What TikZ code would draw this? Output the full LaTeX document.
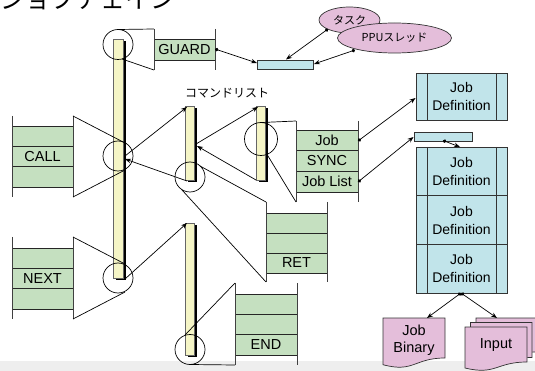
\documentclass[tikz,border=0pt]{standalone}
\usepackage{fontspec}
\setmainfont{Liberation Sans}
\newfontfamily\jpfont{Noto Sans CJK JP}
\usetikzlibrary{arrows.meta,shapes.geometric}
\definecolor{gfill}{RGB}{197,224,192}
\definecolor{ybar}{RGB}{245,245,198}
\definecolor{bfill}{RGB}{193,228,234}
\definecolor{pfill}{RGB}{228,190,218}
\definecolor{band}{RGB}{238,238,238}
\begin{document}
\begin{tikzpicture}[x=1pt,y=-1pt,line width=0.7pt,
  barbox/.style={draw=black!60,line width=0.5pt,fill=ybar,inner sep=0,minimum width=9pt},
  barshadow/.style={fill=black},
  row/.style={draw=black!85,line width=0.7pt,fill=gfill,inner sep=0,font=\fontsize{14.5}{17}\selectfont},
  brk/.style={draw=black!75,line width=0.7pt},
  proj/.style={draw=black,line width=0.7pt},
  zoomcirc/.style={draw=black,line width=0.7pt},
  arr/.style={draw=black,line width=0.7pt,-{Stealth[length=6pt,width=4.5pt]}},
  darr/.style={draw=black,line width=0.7pt,{Circle[length=3.5pt]}-{Stealth[length=6pt,width=4.5pt]}},
  bluebox/.style={draw=black!80,line width=0.7pt,fill=bfill,inner sep=0},
  jdtext/.style={font=\fontsize{14}{18}\selectfont,align=center},
  pinkshape/.style={draw=black!80,line width=0.7pt,fill=pfill},
  blob/.style={draw=black!80,line width=0.7pt,fill=pfill,ellipse}
]
\useasboundingbox (0,0) rectangle (535,371);
\fill[band] (0,361) rectangle (535,371);

% title (cut off at top)
\node[anchor=base west,inner sep=0,font=\jpfont\fontsize{25}{25}\selectfont] (title) at (0,9) {ジョブチェイン};

% ---------- bars ----------
\fill[barshadow] (116,41) rectangle (126,280);
\node[barbox,minimum width=10pt,minimum height=239pt] (b1) at (118,158.5) {};
\fill[barshadow] (188,108) rectangle (197,182);
\node[barbox,minimum height=74pt] (b2) at (189.5,143) {};
\fill[barshadow] (259,108) rectangle (268,182);
\node[barbox,minimum height=74pt] (b3) at (260.5,143) {};
\fill[barshadow] (188,225) rectangle (197,357);
\node[barbox,minimum height=132pt] (b4) at (189.5,289) {};

% ---------- zoom circles ----------
\draw[zoomcirc] (118,44.5) circle (15);
\draw[zoomcirc] (118,156) circle (15);
\draw[zoomcirc] (118,278) circle (15);
\draw[zoomcirc] (190,177) circle (15);
\draw[zoomcirc] (261,139) circle (16.5);
\draw[zoomcirc] (190,349.5) circle (15);

% ---------- green rows ----------
\node[row,minimum width=61pt,minimum height=21pt] (guard) at (184.5,49.5) {GUARD};

\node[row,minimum width=61pt,minimum height=20.33pt] (call1) at (42.5,136.2) {};
\node[row,minimum width=61pt,minimum height=20.33pt] (call2) at (42.5,156.5) {CALL};
\node[row,minimum width=61pt,minimum height=20.33pt] (call3) at (42.5,176.8) {};

\node[row,minimum width=61pt,minimum height=20.33pt] (next1) at (42.5,258.2) {};
\node[row,minimum width=61pt,minimum height=20.33pt] (next2) at (42.5,278.5) {NEXT};
\node[row,minimum width=61pt,minimum height=20.33pt] (next3) at (42.5,298.8) {};

\node[row,minimum width=62pt,minimum height=20.67pt] (cjob) at (327,140.3) {Job};
\node[row,minimum width=62pt,minimum height=20.67pt] (csync) at (327,161) {SYNC};
\node[row,minimum width=62pt,minimum height=20.67pt] (clist) at (327,181.7) {Job List};

\node[row,minimum width=61pt,minimum height=20pt] (ret1) at (296.5,223) {};
\node[row,minimum width=61pt,minimum height=20pt] (ret2) at (296.5,243) {};
\node[row,minimum width=61pt,minimum height=20pt] (ret3) at (296.5,263) {RET};

\node[row,minimum width=62pt,minimum height=20.33pt] (end1) at (266,304.2) {};
\node[row,minimum width=62pt,minimum height=20.33pt] (end2) at (266,324.5) {};
\node[row,minimum width=62pt,minimum height=20.33pt] (end3) at (266,344.8) {END};

% ---------- bracket corners ----------
\coordinate (gTL) at (154,29);  \coordinate (gBL) at (154,70);
\coordinate (gTR) at (215,29);  \coordinate (gBR) at (215,70);
\coordinate (kTL) at (12,116);  \coordinate (kBL) at (12,197);
\coordinate (kTR) at (73,116);  \coordinate (kBR) at (73,197);
\coordinate (nTL) at (12,237);  \coordinate (nBL) at (12,319);
\coordinate (nTR) at (73,237);  \coordinate (nBR) at (73,319);
\coordinate (mTL) at (296,121); \coordinate (mBL) at (296,202);
\coordinate (mTR) at (358,121); \coordinate (mBR) at (358,202);
\coordinate (rTL) at (266,202); \coordinate (rBL) at (266,282);
\coordinate (rTR) at (327,202); \coordinate (rBR) at (327,282);
\coordinate (eTL) at (235,283); \coordinate (eBL) at (235,365);
\coordinate (eTR) at (297,283); \coordinate (eBR) at (297,365);
\foreach \p in {g,k,n,m,r,e}{
  \draw[brk] (\p TL) -- (\p BL);
  \draw[brk] (\p TR) -- (\p BR);
}

% ---------- projection lines ----------
\coordinate (c1t) at (118,29.5);  \coordinate (c1b) at (122,59);
\coordinate (c2t) at (125,143);   \coordinate (c2b) at (125,170);
\coordinate (c3t) at (125,264);   \coordinate (c3b) at (125,292);
\coordinate (c5t) at (262,122.5); \coordinate (c5b) at (267,154.4);
\coordinate (c4t) at (200,166);   \coordinate (c4b) at (182,190);
\coordinate (c6t) at (185,335);   \coordinate (c6b) at (190,364.5);
\draw[proj] (c1t) -- (gTL);  \draw[proj] (c1b) -- (gBL);
\draw[proj] (kTR) -- (c2t);  \draw[proj] (kBR) -- (c2b);
\draw[proj] (nTR) -- (c3t);  \draw[proj] (nBR) -- (c3b);
\draw[proj] (c5t) -- (mTL);  \draw[proj] (c5b) -- (mBL);
\draw[proj] (c4t) -- (rTL);  \draw[proj] (c4b) -- (rBL);
\draw[proj] (c6t) -- (eTL);  \draw[proj] (c6b) -- (eBL);

% ---------- bar-to-bar arrows ----------
\coordinate (b1call) at (125,156);  \coordinate (b1ret) at (125,159);
\coordinate (b2top) at (187,107);   \coordinate (b2bot) at (187,181);
\coordinate (b2mid) at (196,144);   \coordinate (b2back) at (197,146);
\coordinate (b3top) at (258,107);   \coordinate (b3bot) at (256,180);
\coordinate (b1next) at (125,279);  \coordinate (b4top) at (187,223);
\draw[arr] (b1call) -- (b2top);
\draw[arr] (b2bot) -- (b1ret);
\draw[arr] (b2mid) -- (b3top);
\draw[arr] (b3bot) -- (b2back);
\draw[arr] (b1next) -- (b4top);

\node[font=\jpfont\fontsize{12}{12}\selectfont,inner sep=0] (cmdlabel) at (227,93) {コマンドリスト};

% ---------- blue elements ----------
\node[bluebox,minimum width=56pt,minimum height=9pt] (bb1) at (285,64.5) {};
\node[bluebox,minimum width=58pt,minimum height=9pt] (bb2) at (443,136.5) {};

\node[blob,minimum width=61pt,minimum height=26pt,inner sep=0,font=\jpfont\fontsize{11}{11}\selectfont] (task) at (349.5,20) {タスク};
\node[blob,minimum width=114pt,minimum height=30pt,inner sep=0,font=\jpfont\fontsize{11}{11}\selectfont] (ppu) at (394.5,38) {PPUスレッド};

\node[bluebox,jdtext,minimum width=91pt,minimum height=47pt] (jd0) at (461.5,96.5) {Job\\Definition};
\node[bluebox,jdtext,minimum width=91pt,minimum height=48.67pt] (jd1) at (461.5,171.3) {Job\\Definition};
\node[bluebox,jdtext,minimum width=91pt,minimum height=48.67pt] (jd2) at (461.5,220) {Job\\Definition};
\node[bluebox,jdtext,minimum width=91pt,minimum height=48.67pt] (jd3) at (461.5,268.7) {Job\\Definition};
\draw[black!80,line width=0.7pt] (427,73) -- (427,120) (496,73) -- (496,120);
\draw[black!80,line width=0.7pt] (427,147) -- (427,293) (496,147) -- (496,293);

% ---------- pink documents ----------
\draw[pinkshape] (476,318) -- (537,318) -- (537,352) .. controls (506.5,352) and (506.5,365) .. (476,357.5) -- cycle;
\draw[pinkshape] (470.5,322.5) -- (532,322.5) -- (532,357.5) .. controls (501,357.5) and (501,371) .. (470.5,363.5) -- cycle;
\draw[pinkshape] (465,327) -- (527,327) -- (527,362) .. controls (496,362) and (496,375.5) .. (465,368) -- cycle;
\node[font=\fontsize{14.5}{17}\selectfont,inner sep=0] (input) at (496,345) {Input};
\draw[pinkshape] (383,318) -- (445,318) -- (445,358) .. controls (414,358) and (414,373) .. (383,364.7) -- cycle;
\node[font=\fontsize{14.5}{17}\selectfont,align=center,inner sep=0] (jbin) at (414,340) {Job\\Binary};

% ---------- dotted-start arrows ----------
\coordinate (gdot) at (215,49);   \coordinate (bb1l) at (257,63);
\coordinate (tdot) at (328,29);   \coordinate (bb1t) at (286,59.5);
\coordinate (pdot) at (355,50);   \coordinate (bb1r) at (314,64);
\coordinate (jdot) at (358,141);  \coordinate (jd0l) at (415.5,98);
\coordinate (ldot) at (358,182);  \coordinate (bb2l) at (413.5,137);
\coordinate (bdot) at (443,140.5);\coordinate (stk) at (460,147);
\coordinate (sdot) at (461,293);  \coordinate (jbt) at (427,318);
\coordinate (int) at (497,318);
\draw[darr] (gdot) -- (bb1l);
\draw[darr] (tdot) -- (bb1t);
\draw[darr] (pdot) -- (bb1r);
\draw[darr] (jdot) -- (jd0l);
\draw[darr] (ldot) -- (bb2l);
\draw[darr] (bdot) -- (stk);
\draw[darr] (sdot) -- (jbt);
\draw[darr] (sdot) -- (int);
\end{tikzpicture}
\end{document}
